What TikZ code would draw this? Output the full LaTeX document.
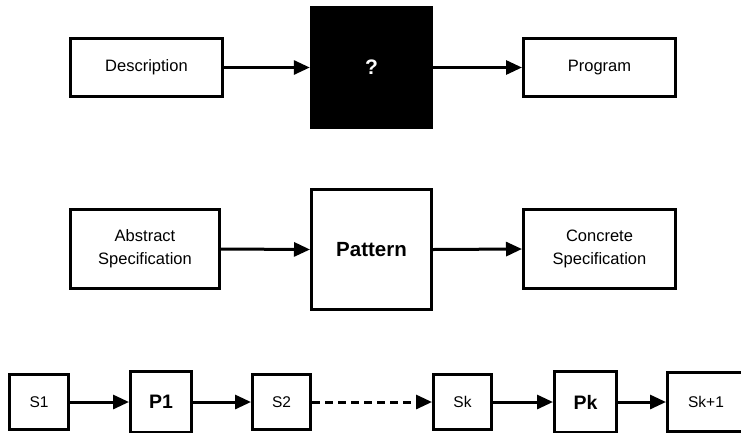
\documentclass[tikz,border=0pt]{standalone}
\usepackage{fontspec}
\setmainfont{Liberation Sans}
\usetikzlibrary{arrows.meta}
\tikzset{
  box/.style={draw=black, line width=3pt, fill=white, inner sep=0pt, align=center,
    font=\fontsize{16.5}{23}\selectfont},
  smallbox/.style={box, font=\fontsize{15.5}{18}\selectfont},
  patbox/.style={box, font=\fontsize{19.5}{22}\selectfont\bfseries},
  flow/.style={line width=3pt, -{Triangle[length=16pt,width=14pt]}},
  dflow/.style={flow, dash pattern=on 7.5pt off 5.5pt}
}
\begin{document}
\begin{tikzpicture}[x=1pt, y=-1pt]
\useasboundingbox (0,0) rectangle (741,432);

% top row: description -> black box -> program
\node[box, minimum width=152pt, minimum height=58pt] (desc) at (146.5,67.5) {Description};
\node[fill=black, minimum width=123pt, minimum height=123pt, inner sep=0pt,
  text=white, font=\fontsize{21}{24}\selectfont\bfseries] (blk) at (371.5,67.5) {?};
\node[box, minimum width=152pt, minimum height=58pt] (prog) at (599.5,67.5) {Program};
\draw[flow] (desc.east) -- (blk.west);
\draw[flow] (blk.east) -- (prog.west);

% middle row: abstract spec -> pattern -> concrete spec
\node[box, minimum width=149pt, minimum height=79pt] (abs) at (145,249) {Abstract\\Specification};
\node[box, minimum width=120pt, minimum height=120pt, font=\fontsize{20.5}{24}\selectfont\bfseries] (pat) at (371.5,249.5) {Pattern};
\node[box, minimum width=152pt, minimum height=79pt] (conc) at (599.5,249) {Concrete\\Specification};
\draw[flow] (abs.east) -- (pat.west);
\draw[flow] (pat.east) -- (conc.west);

% bottom row: chain of specifications and patterns
\node[smallbox, minimum width=59pt, minimum height=55pt] (s1) at (39,402) {S1};
\node[patbox, minimum width=61pt, minimum height=61pt] (p1) at (161,402) {P1};
\node[smallbox, minimum width=58pt, minimum height=55pt] (s2) at (281.5,402) {S2};
\node[smallbox, minimum width=58pt, minimum height=55pt] (sk) at (462.5,402) {Sk};
\node[patbox, minimum width=62pt, minimum height=61pt] (pk) at (585.5,402) {Pk};
\node[smallbox, minimum width=77pt, minimum height=59pt] (sk1) at (706,402) {Sk+1};
\draw[flow] (s1.east) -- (p1.west);
\draw[flow] (p1.east) -- (s2.west);
\draw[dflow] (s2.east) -- (sk.west);
\draw[flow] (sk.east) -- (pk.west);
\draw[flow] (pk.east) -- (sk1.west);
\end{tikzpicture}
\end{document}
